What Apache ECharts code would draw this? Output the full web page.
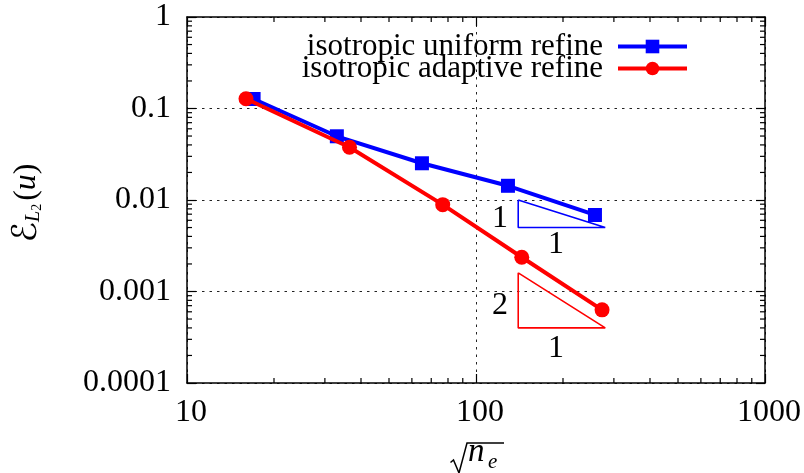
<!DOCTYPE html>
<html>
<head>
<meta charset="utf-8">
<script src="https://cdn.jsdelivr.net/npm/echarts@6/dist/echarts.min.js"></script>
<style>
  html, body { margin: 0; padding: 0; background: #fff; }
  #chart { width: 804px; height: 473px; }
</style>
</head>
<body>
<div id="chart"></div>
<script>
// Axis ticks
const xTickValues = [10, 100, 1000];
const xTickLabels = ['10', '100', '1000'];
const yTickValues = [1, 0.1, 0.01, 0.001, 0.0001];
const yTickLabels = ['1', '0.1', '0.01', '0.001', '0.0001'];
const xMinorTicks = [20, 30, 40, 50, 60, 70, 80, 90, 200, 300, 400, 500, 600, 700, 800, 900];
const yMinorTicks = [0.0002, 0.0003, 0.0004, 0.0005, 0.0006, 0.0007, 0.0008, 0.0009,
                     0.002, 0.003, 0.004, 0.005, 0.006, 0.007, 0.008, 0.009,
                     0.02, 0.03, 0.04, 0.05, 0.06, 0.07, 0.08, 0.09,
                     0.2, 0.3, 0.4, 0.5, 0.6, 0.7, 0.8, 0.9];

// Error vs sqrt(number of elements)
const uniformName = 'isotropic uniform refine';
const uniformSqrtNe = [17, 33, 65, 129, 258];
const uniformError = [0.127, 0.0497, 0.0252, 0.0143, 0.00686];

const adaptiveName = 'isotropic adaptive refine';
const adaptiveSqrtNe = [16, 36.5, 76.7, 144, 273];
const adaptiveError = [0.128, 0.0377, 0.0089, 0.00237, 0.00063];

// Slope triangles (closed outlines)
const slope1X = [140, 140, 280, 140];
const slope1Y = [0.01, 0.005, 0.005, 0.01];
const slope2X = [140, 140, 280, 140];
const slope2Y = [0.0016, 0.0004, 0.0004, 0.0016];

// Slope annotations: text, x, y
const slope1Text = ['1', '1'];
const slope1TextX = [121, 189];
const slope1TextY = [0.0063, 0.00322];
const slope2Text = ['2', '1'];
const slope2TextX = [121, 189];
const slope2TextY = [0.0007, 0.000239];

const X_MIN = 10, X_MAX = 1000, Y_MIN = 0.0001, Y_MAX = 1;
const SERIF = '"Liberation Serif", "DejaVu Serif", serif';
const zip = (a, b) => a.map((v, i) => [v, b[i]]);

const chart = echarts.init(document.getElementById('chart'), null, { renderer: 'canvas' });

const gridDots = { color: '#222', width: 1, type: [2.5, 5] };
const sameDecade = (a, b) => Math.abs(Math.log10(a) - Math.log10(b)) < 1e-6;

function baseX(pos, showLabels) {
  return {
    type: 'log', logBase: 10, min: X_MIN, max: X_MAX, position: pos,
    splitNumber: 2,
    axisLine: { show: true, onZero: false, lineStyle: { color: '#000', width: 1.5 } },
    axisTick: { show: true, inside: true, length: 9, lineStyle: { color: '#000', width: 1.2 } },
    axisLabel: {
      show: showLabels, margin: 14, color: '#000', fontFamily: SERIF, fontSize: 32,
      padding: [0, 0, 0, 8],
      formatter: v => { const i = xTickValues.findIndex(t => sameDecade(t, v)); return i >= 0 ? xTickLabels[i] : ''; }
    },
    splitLine: { show: showLabels, lineStyle: gridDots },
    minorTick: { show: false }
  };
}
function baseY(pos, showLabels) {
  return {
    type: 'log', logBase: 10, min: Y_MIN, max: Y_MAX, position: pos,
    splitNumber: 4,
    axisLine: { show: true, onZero: false, lineStyle: { color: '#000', width: 1.5 } },
    axisTick: { show: true, inside: true, length: 9, lineStyle: { color: '#000', width: 1.2 } },
    axisLabel: {
      show: showLabels, margin: 16, color: '#000', fontFamily: SERIF, fontSize: 32,
      padding: [4, 0, 0, 0],
      formatter: v => { const i = yTickValues.findIndex(t => sameDecade(t, v)); return i >= 0 ? yTickLabels[i] : ''; }
    },
    splitLine: { show: showLabels, lineStyle: gridDots },
    minorTick: { show: false }
  };
}

// Minor tick marks drawn inward on all four frame edges
const minorLen = 5;
const tickStyle = { stroke: '#000', lineWidth: 1.2 };
const xMinorSeries = {
  type: 'custom', silent: true, z: 5, clip: false,
  data: xMinorTicks.map(v => [v, Y_MAX]),
  renderItem: (params, api) => {
    const b = api.coord([api.value(0), Y_MIN]);
    const t = api.coord([api.value(0), Y_MAX]);
    return { type: 'group', children: [
      { type: 'line', shape: { x1: b[0], y1: b[1], x2: b[0], y2: b[1] - minorLen }, style: tickStyle },
      { type: 'line', shape: { x1: t[0], y1: t[1], x2: t[0], y2: t[1] + minorLen }, style: tickStyle }
    ] };
  }
};
const yMinorSeries = {
  type: 'custom', silent: true, z: 5, clip: false,
  data: yMinorTicks.map(v => [X_MIN, v]),
  renderItem: (params, api) => {
    const l = api.coord([X_MIN, api.value(1)]);
    const r = api.coord([X_MAX, api.value(1)]);
    return { type: 'group', children: [
      { type: 'line', shape: { x1: l[0], y1: l[1], x2: l[0] + minorLen, y2: l[1] }, style: tickStyle },
      { type: 'line', shape: { x1: r[0], y1: r[1], x2: r[0] - minorLen, y2: r[1] }, style: tickStyle }
    ] };
  }
};

function triangle(xs, ys, color) {
  return {
    type: 'line', data: zip(xs, ys), symbol: 'none', silent: true, z: 3,
    lineStyle: { color: color, width: 1.6 }
  };
}
// Slope ratio numbers, drawn as text at data positions
function slopeText(texts, xs, ys) {
  return {
    type: 'custom', silent: true, z: 4, clip: false,
    data: texts.map((t, i) => [xs[i], ys[i], i]),
    renderItem: (params, api) => {
      const p = api.coord([api.value(0), api.value(1)]);
      return {
        type: 'text', x: p[0], y: p[1],
        style: { text: texts[api.value(2)], fill: '#000', fontFamily: SERIF, fontSize: 32,
                 align: 'center', verticalAlign: 'middle' }
      };
    }
  };
}

const option = {
  animation: false,
  backgroundColor: '#fff',
  grid: { left: 187, right: 37, top: 17, bottom: 90, containLabel: false },
  xAxis: [baseX('bottom', true), baseX('top', false)],
  yAxis: [baseY('left', true), baseY('right', false)],
  legend: {
    show: true, orient: 'vertical', right: 110, top: 26, padding: 5,
    align: 'right', itemWidth: 69, itemHeight: 17, itemGap: -9,
    data: [uniformName, adaptiveName],
    lineStyle: { width: 4 },
    textStyle: { fontFamily: SERIF, fontSize: 31, color: '#000', padding: [0, 10, 0, 0] },
    selectedMode: false
  },
  series: [
    triangle(slope1X, slope1Y, '#0000ff'),
    triangle(slope2X, slope2Y, '#ff0000'),
    slopeText(slope1Text, slope1TextX, slope1TextY),
    slopeText(slope2Text, slope2TextX, slope2TextY),
    {
      name: uniformName, type: 'line', data: zip(uniformSqrtNe, uniformError), z: 6,
      symbol: 'rect', symbolSize: 14, color: '#0000ff',
      lineStyle: { color: '#0000ff', width: 4 }, itemStyle: { color: '#0000ff' }
    },
    {
      name: adaptiveName, type: 'line', data: zip(adaptiveSqrtNe, adaptiveError), z: 7,
      symbol: 'circle', symbolSize: 15, color: '#ff0000',
      lineStyle: { color: '#ff0000', width: 4 }, itemStyle: { color: '#ff0000' }
    },
    xMinorSeries,
    yMinorSeries
  ],
  graphic: [
    {
      type: 'text', x: 27, y: 203, rotation: Math.PI / 2,
      style: {
        text: '{e|ℰ}{l|L}{n|2}{p|(}{u|u}{p|)}',
        align: 'center', verticalAlign: 'middle',
        rich: {
          e: { fontFamily: '"DejaVu Sans", serif', fontSize: 34, fill: '#000' },
          l: { fontFamily: SERIF, fontStyle: 'italic', fontSize: 20, fill: '#000', verticalAlign: 'bottom', padding: [14, 0, 0, 0] },
          n: { fontFamily: SERIF, fontSize: 14, fill: '#000', verticalAlign: 'bottom', padding: [18, 3, 0, 0] },
          p: { fontFamily: SERIF, fontSize: 32, fill: '#000' },
          u: { fontFamily: SERIF, fontStyle: 'italic', fontSize: 32, fill: '#000' }
        }
      }
    },
    {
      type: 'group',
      children: [
        { type: 'polyline', shape: { points: [[450.5, 462.5], [453.5, 460], [459, 473], [467, 443], [504, 443]] },
          style: { stroke: '#000', lineWidth: 1.5, fill: null } },
        { type: 'text', x: 468, y: 452, style: { text: 'n', fontFamily: SERIF, fontStyle: 'italic', fontSize: 33, fill: '#000', verticalAlign: 'middle' } },
        { type: 'text', x: 488, y: 462, style: { text: 'e', fontFamily: SERIF, fontStyle: 'italic', fontSize: 21, fill: '#000', verticalAlign: 'middle' } }
      ]
    }
  ]
};

chart.setOption(option);
</script>
</body>
</html>
